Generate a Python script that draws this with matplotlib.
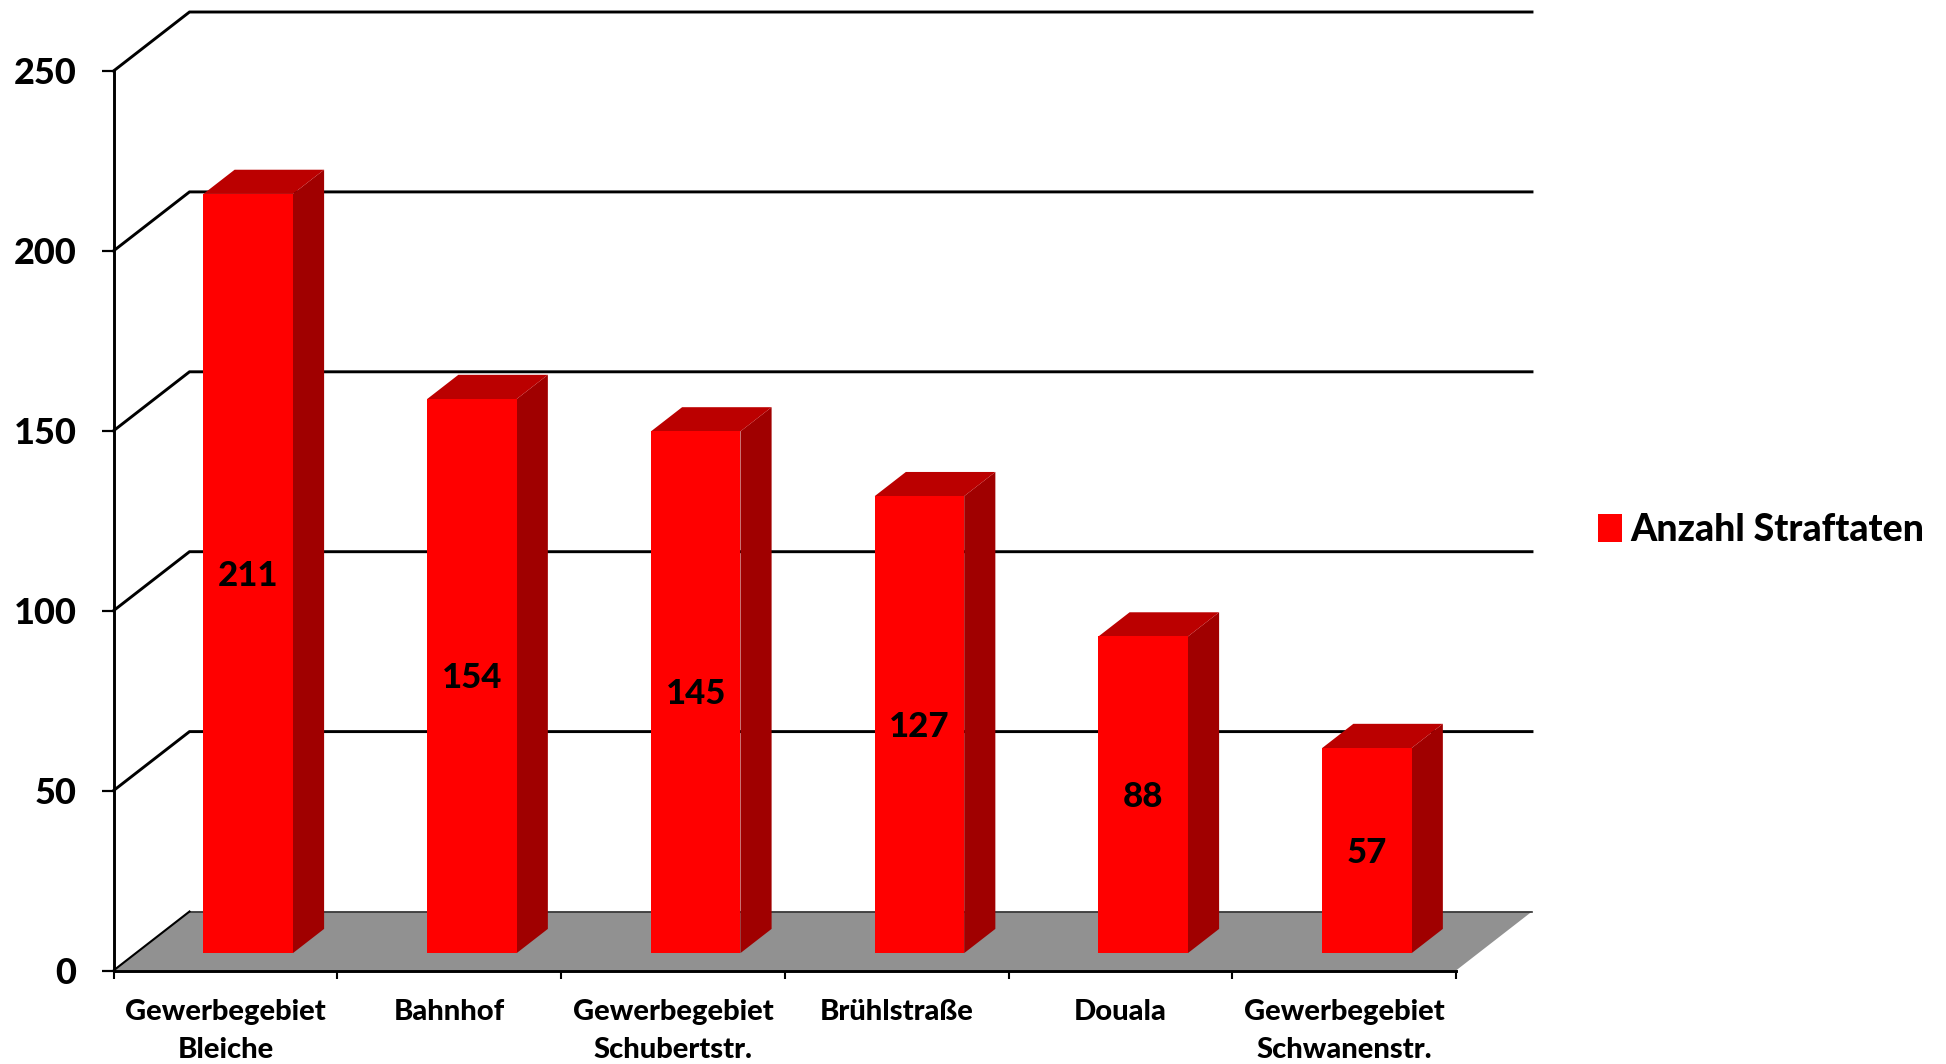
import matplotlib
matplotlib.use("Agg")
import matplotlib.pyplot as plt
from matplotlib.patches import Patch

categories = ["Gewerbegebiet\nBleiche", "Bahnhof", "Gewerbegebiet\nSchubertstr.",
              "Brühlstraße", "Douala", "Gewerbegebiet\nSchwanenstr."]
values = [211, 154, 145, 127, 88, 57]
yticks = [0, 50, 100, 150, 200, 250]
series_name = "Anzahl Straftaten"

FRONT, TOP, SIDE, FLOOR = "#ff0000", "#bb0000", "#a00000", "#919191"
W, H = 1946, 1064
WEIGHT = 900
plt.rcParams["font.family"] = ["Lato", "DejaVu Sans"]
plt.rcParams["font.weight"] = WEIGHT

fig = plt.figure(figsize=(W / 100, H / 100), dpi=100, facecolor="white")
L, R, T, B = 113.5, 1456, 71, 970.5
ax = fig.add_axes([L / W, 1 - B / H, (R - L) / W, (B - T) / H])
ax.set_xlim(0, len(categories))
ax.set_ylim(0, 250)

ux = (R - L) / len(categories)
uy = (B - T) / 250
DX, DY = 76 / ux, 59 / uy          # depth of the box in data units


def pt(x, y, d=0.0):
    """Project (x, value, depth 0..1) onto the axes plane."""
    return x + d * DX, y + d * DY


def face(points, color, z):
    xs, ys = zip(*[pt(*p) for p in points])
    ax.fill(xs, ys, facecolor=color, edgecolor="none", clip_on=False, zorder=z)


# floor
n = len(categories)
face([(0, 0, 0), (n, 0, 0), (n, 0, 1), (0, 0, 1)], FLOOR, 1)
x0, y0 = pt(0, 0, 1)
x1, _ = pt(n, 0, 1)
ax.plot([x0, x1], [y0, y0], color="#333333", lw=1.2, clip_on=False, zorder=1.5)
xa, ya = pt(0, 0, 0)
ax.plot([xa, x0], [ya, y0], color="black", lw=1.5, clip_on=False, zorder=1.5)

# grid lines on back and left walls
for v in yticks[1:]:
    xa, ya = pt(0, v, 0)
    xb, yb = pt(0, v, 1)
    xc, _ = pt(n, v, 1)
    ax.plot([xa, xb, xc], [ya, yb, yb], color="black", lw=2.1,
            clip_on=False, zorder=0.5, solid_joinstyle="miter")

# bars
bar_w = 89.5 / ux
d0, d1 = 0.295, 0.705
off = 0.4 / ux
for i, v in enumerate(values):
    c = i + 0.5 + off
    a, b = c - bar_w / 2, c + bar_w / 2
    face([(b, 0, d0), (b, 0, d1), (b, v, d1), (b, v, d0)], SIDE, 3)
    face([(a, v, d0), (b, v, d0), (b, v, d1), (a, v, d1)], TOP, 3)
    face([(a, 0, d0), (b, 0, d0), (b, v, d0), (a, v, d0)], FRONT, 4)
    tx, ty = pt(c, v / 2, d0)
    ax.annotate(str(v), (tx, ty), xytext=(0, -1.5), textcoords="offset points",
                ha="center", va="center", fontsize=25,
                fontweight=WEIGHT, color="black", zorder=5)

# axes
for s in ("top", "right"):
    ax.spines[s].set_visible(False)
for s in ("left", "bottom"):
    ax.spines[s].set_linewidth(2.1)
    ax.spines[s].set_color("black")
    ax.spines[s].set_zorder(6)
ax.patch.set_visible(False)
ax.set_yticks(yticks)
ax.set_yticklabels([str(v) for v in yticks], fontsize=26, fontweight=WEIGHT)
ax.tick_params(axis="y", length=9, width=1.6, pad=17.5)
ax.set_xticks(range(n + 1))
ax.set_xticklabels([])
ax.tick_params(axis="x", which="major", length=6, width=1.5)
ax.set_xticks([i + 0.5 for i in range(n)], minor=True)
ax.set_xticklabels(categories, minor=True, fontsize=21, fontweight=WEIGHT, linespacing=1.56)
ax.tick_params(axis="x", which="minor", length=0, pad=20.5)

# legend
leg = fig.legend(handles=[Patch(facecolor=FRONT, edgecolor="none", label=series_name)],
                 loc="center left", bbox_to_anchor=(1598 / W, 1 - 530 / H), frameon=False,
                 fontsize=27, handlelength=0.65, handleheight=0.75, handletextpad=0.22,
                 borderpad=0, borderaxespad=0)

fig.savefig("out.png", dpi=100, facecolor="white")
